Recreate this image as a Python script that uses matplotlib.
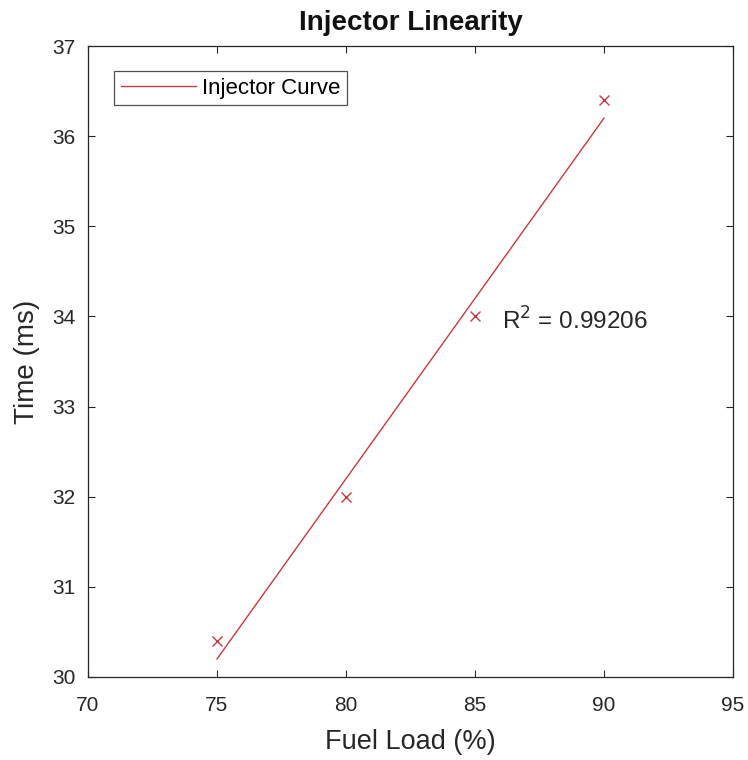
import numpy as np
import matplotlib
matplotlib.use("Agg")
import matplotlib.pyplot as plt

plt.rcParams['font.family'] = ['Liberation Sans', 'DejaVu Sans']

fuel_load = [75, 80, 85, 90]
time_ms = [30.4, 32.0, 34.0, 36.4]
xticks = [70, 75, 80, 85, 90, 95]
yticks = [30, 31, 32, 33, 34, 35, 36, 37]
r2_label = "R$^2$ = 0.99206"

red = '#c8383f'
dark = '#262626'

W, H = 748, 760
L, R, T, B = 88, 733, 46, 677
fig = plt.figure(figsize=(W / 100, H / 100), dpi=100)
ax = fig.add_axes([L / W, 1 - B / H, (R - L) / W, (B - T) / H])

coef = np.polyfit(fuel_load, time_ms, 1)
xf = np.array([fuel_load[0], fuel_load[-1]])
ax.plot(xf, np.polyval(coef, xf), color=red, lw=1.0, label='Injector Curve')
ax.plot(fuel_load, time_ms, linestyle='none', marker='x', color=red, ms=7, mew=1.0)

ax.text(86.05, 33.95, r2_label, fontsize=17.5, color=dark, va='center', ha='left')

ax.set_xlim(70, 95)
ax.set_ylim(30, 37)
ax.set_xticks(xticks)
ax.set_yticks(yticks)
ax.tick_params(direction='in', top=True, right=True, length=5, width=0.8,
               labelsize=15, labelcolor=dark, colors=dark)
ax.tick_params(axis='x', pad=14)
ax.tick_params(axis='y', pad=9)
for s in ax.spines.values():
    s.set_color(dark)
    s.set_linewidth(0.9)

ax.set_xlabel('Fuel Load (%)', fontsize=19.5, color=dark)
ax.xaxis.set_label_coords(0.5, (B - 742) / (B - T))
ax.xaxis.label.set_va('center')
ax.set_ylabel('Time (ms)', fontsize=20, color=dark)
ax.yaxis.set_label_coords((27 - L) / (R - L), 0.5)
ax.yaxis.label.set_va('center')

ax.set_title('Injector Linearity', fontsize=20, fontweight='bold', color='#111111',
             y=1 + (T - 23) / (B - T), va='center', pad=0)

leg = ax.legend(loc='upper left', fontsize=16, frameon=True, fancybox=False,
                edgecolor=dark, bbox_to_anchor=((114 - L) / (R - L), 1 - (71 - T) / (B - T)),
                borderaxespad=0, handlelength=3.37, handletextpad=0.28,
                borderpad=0.3)
leg.get_frame().set_linewidth(0.9)

fig.savefig('out.png', dpi=100)
